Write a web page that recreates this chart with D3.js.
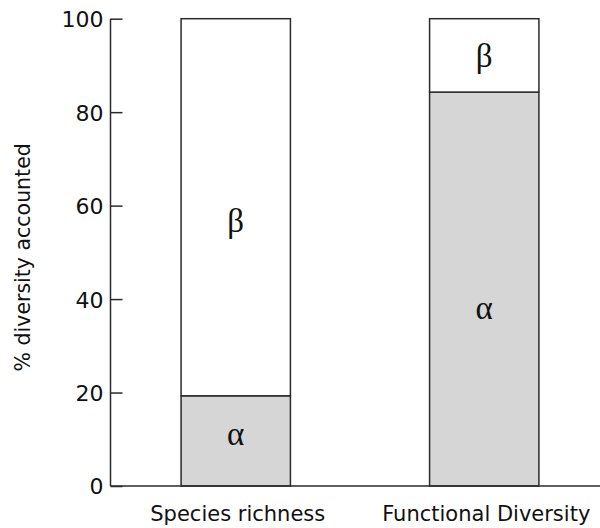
<!DOCTYPE html>
<html>
<head>
<meta charset="utf-8">
<script src="https://cdn.jsdelivr.net/npm/d3@7"></script>
<style>
  html, body { margin: 0; padding: 0; background: #fff; }
  svg { display: block; }
</style>
</head>
<body>
<svg id="chart" width="600" height="528"></svg>
<script>
// Partition of diversity into alpha (within) and beta (between) components, in %
const categories = ["Species richness", "Functional Diversity"];
const alphaValues = [19.3, 84.3];
const betaValues = [80.7, 15.7];
const yTicks = [0, 20, 40, 60, 80, 100];
// Where the Greek letters sit inside each segment (baseline, in % units)
const alphaLabelAt = [8.8, 35.7];
const betaLabelAt = [54.4, 89.7];
const segmentNames = ["α", "β"];

const svg = d3.select("#chart");
const W = 600;
const axisX = 110.5;
const ink = "#2b2b2b";

const y = d3.scaleLinear().domain([0, 100]).range([486, 18.7]);
const x = d3.scaleBand()
  .domain(categories)
  .range([axisX, 609.5])
  .paddingInner(0.56)
  .paddingOuter(0.284);

const rows = categories.map((c, i) => ({
  cat: c,
  alpha: alphaValues[i],
  beta: betaValues[i],
  alphaAt: alphaLabelAt[i],
  betaAt: betaLabelAt[i]
}));

// stacked bars
const stack = d3.stack().keys(["alpha", "beta"])(rows);
const fills = { alpha: "#d6d6d6", beta: "#ffffff" };

svg.append("g").selectAll("g")
  .data(stack)
  .join("g")
  .attr("fill", d => fills[d.key])
  .selectAll("rect")
  .data(d => d)
  .join("rect")
  .attr("x", d => x(d.data.cat))
  .attr("width", x.bandwidth())
  .attr("y", d => y(d[1]))
  .attr("height", d => y(d[0]) - y(d[1]))
  .attr("stroke", ink)
  .attr("stroke-width", 1.5);

// segment letters
const labels = [];
rows.forEach(r => {
  labels.push({ cat: r.cat, at: r.alphaAt, t: segmentNames[0] });
  labels.push({ cat: r.cat, at: r.betaAt, t: segmentNames[1] });
});
svg.append("g").selectAll("text")
  .data(labels)
  .join("text")
  .attr("x", d => x(d.cat) + x.bandwidth() / 2)
  .attr("y", d => y(d.at))
  .attr("text-anchor", "middle")
  .attr("font-family", "'Liberation Serif', 'DejaVu Serif', serif")
  .attr("font-size", 33)
  .attr("fill", "#111")
  .text(d => d.t);

// y axis with inward ticks
const yAxis = d3.axisRight(y)
  .tickValues(yTicks)
  .tickSize(12)
  .tickFormat(d3.format("d"));
const gy = svg.append("g")
  .attr("transform", `translate(${axisX},0)`)
  .call(yAxis);
gy.select(".domain").remove();
gy.selectAll(".tick line").attr("stroke", ink).attr("stroke-width", 1.5);
gy.selectAll(".tick text")
  .attr("x", -7)
  .attr("dy", "0.36em")
  .attr("text-anchor", "end")
  .attr("font-family", "'DejaVu Sans', sans-serif")
  .attr("font-size", 22)
  .attr("fill", "#111");
gy.append("line")
  .attr("x1", 0).attr("x2", 0)
  .attr("y1", y(100)).attr("y2", y(0))
  .attr("stroke", ink).attr("stroke-width", 1.5);

// baseline across the plot
svg.append("line")
  .attr("x1", axisX).attr("x2", W)
  .attr("y1", y(0)).attr("y2", y(0))
  .attr("stroke", ink).attr("stroke-width", 1.5);

// category labels
svg.append("g").selectAll("text")
  .data(categories)
  .join("text")
  .attr("x", d => x(d) + x.bandwidth() / 2 + 2)
  .attr("y", 521)
  .attr("text-anchor", "middle")
  .attr("font-family", "'DejaVu Sans', sans-serif")
  .attr("font-size", 21)
  .attr("fill", "#111")
  .text(d => d);

// y axis title
svg.append("text")
  .attr("transform", `translate(30, ${(y(0) + y(100)) / 2 + 5}) rotate(-90)`)
  .attr("text-anchor", "middle")
  .attr("font-family", "'DejaVu Sans', sans-serif")
  .attr("font-size", 20.5)
  .attr("fill", "#111")
  .text("% diversity accounted");
</script>
</body>
</html>
